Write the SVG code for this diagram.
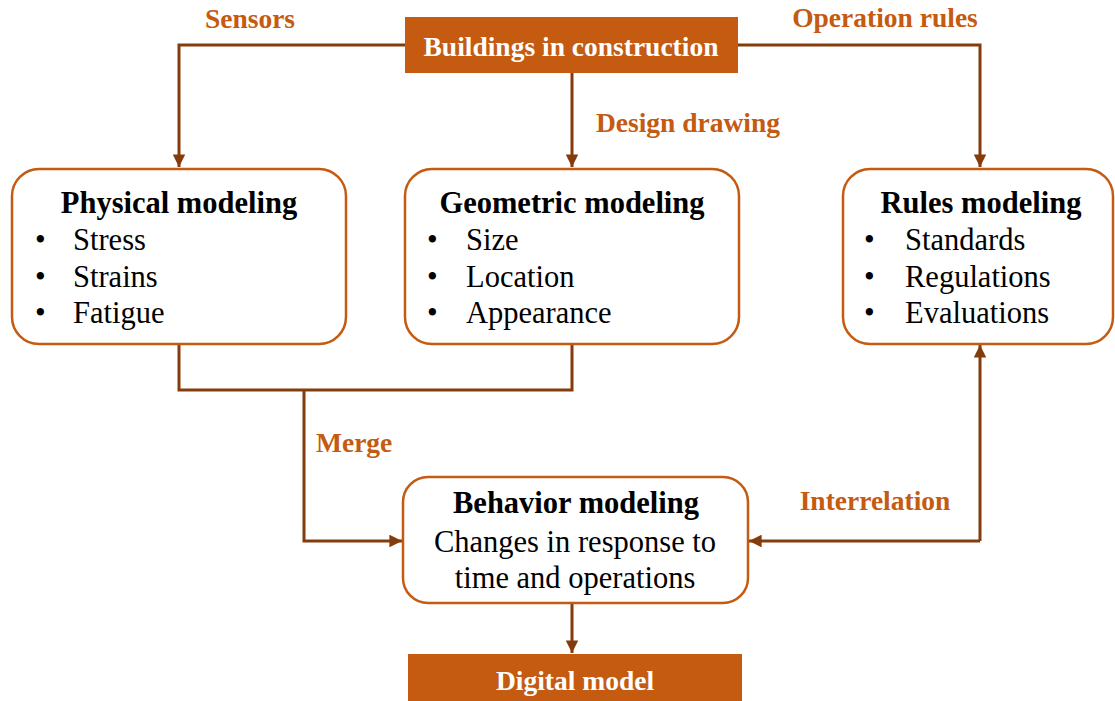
<svg xmlns="http://www.w3.org/2000/svg" width="1115" height="701" viewBox="0 0 1115 701">
<style>
.box{fill:#fff;stroke:#C55A11;stroke-width:2.5}
.solid{fill:#C55A11}
.conn{fill:none;stroke:#843C0C;stroke-width:3}
.lbl{font-family:"Liberation Serif",serif;font-weight:bold;font-size:27.5px;fill:#C55A11}
.wt{font-family:"Liberation Serif",serif;font-weight:bold;font-size:27.5px;fill:#fff;text-anchor:middle}
.ttl{font-family:"Liberation Serif",serif;font-weight:bold;font-size:30.5px;fill:#000;text-anchor:middle}
.txt{font-family:"Liberation Serif",serif;font-size:30.5px;fill:#000}
.ctr{text-anchor:middle}
</style>
<defs>
<marker id="ah" viewBox="0 0 10 10" refX="10" refY="5" markerWidth="4.2" markerHeight="4.2" orient="auto" markerUnits="strokeWidth">
<path d="M0,0 L10,5 L0,10 z" fill="#843C0C"/>
</marker>
</defs>
<rect width="1115" height="701" fill="#fff"/>
<g id="connectors">
<path class="conn" d="M405,45 H179 V167" marker-end="url(#ah)"/>
<path class="conn" d="M738,45 H980 V167" marker-end="url(#ah)"/>
<path class="conn" d="M572,73 V167" marker-end="url(#ah)"/>
<path class="conn" d="M179,345 V390 H572 V345"/>
<path class="conn" d="M304,390 V541 H402" marker-end="url(#ah)"/>
<path class="conn" d="M980,541 H749" marker-end="url(#ah)"/>
<path class="conn" d="M980,541 V345" marker-end="url(#ah)"/>
<path class="conn" d="M572,604 V653" marker-end="url(#ah)"/>
<text class="lbl ctr" x="250" y="28">Sensors</text>
<text class="lbl ctr" x="885" y="27">Operation rules</text>
<text class="lbl ctr" x="688" y="132">Design drawing</text>
<text class="lbl" x="316" y="452">Merge</text>
<text class="lbl ctr" x="875" y="510">Interrelation</text>
</g>
<g id="buildings">
<rect class="solid" x="405" y="17" width="333" height="56"/>
<text class="wt" x="571" y="56">Buildings in construction</text>
</g>
<g id="physical">
<rect class="box" x="12" y="169" width="334" height="175" rx="27"/>
<text class="ttl" x="179" y="213">Physical modeling</text>
<text class="txt" x="35" y="250">•</text><text class="txt" x="73" y="250">Stress</text>
<text class="txt" x="35" y="287">•</text><text class="txt" x="73" y="287">Strains</text>
<text class="txt" x="35" y="323">•</text><text class="txt" x="73" y="323">Fatigue</text>
</g>
<g id="geometric">
<rect class="box" x="405" y="169" width="334" height="175" rx="27"/>
<text class="ttl" x="572" y="213">Geometric modeling</text>
<text class="txt" x="427" y="250">•</text><text class="txt" x="466" y="250">Size</text>
<text class="txt" x="427" y="287">•</text><text class="txt" x="466" y="287">Location</text>
<text class="txt" x="427" y="323">•</text><text class="txt" x="466" y="323">Appearance</text>
</g>
<g id="rules">
<rect class="box" x="843" y="169" width="270" height="175" rx="27"/>
<text class="ttl" x="981" y="213">Rules modeling</text>
<text class="txt" x="864" y="250">•</text><text class="txt" x="905" y="250">Standards</text>
<text class="txt" x="864" y="287">•</text><text class="txt" x="905" y="287">Regulations</text>
<text class="txt" x="864" y="323">•</text><text class="txt" x="905" y="323">Evaluations</text>
</g>
<g id="behavior">
<rect class="box" x="403" y="477" width="345" height="126" rx="25"/>
<text class="ttl" x="576" y="513">Behavior modeling</text>
<text class="txt ctr" x="575" y="552">Changes in response to</text>
<text class="txt ctr" x="575" y="588">time and operations</text>
</g>
<g id="digital">
<rect class="solid" x="408" y="654" width="334" height="47"/>
<text class="wt" x="575" y="690">Digital model</text>
</g>
</svg>
